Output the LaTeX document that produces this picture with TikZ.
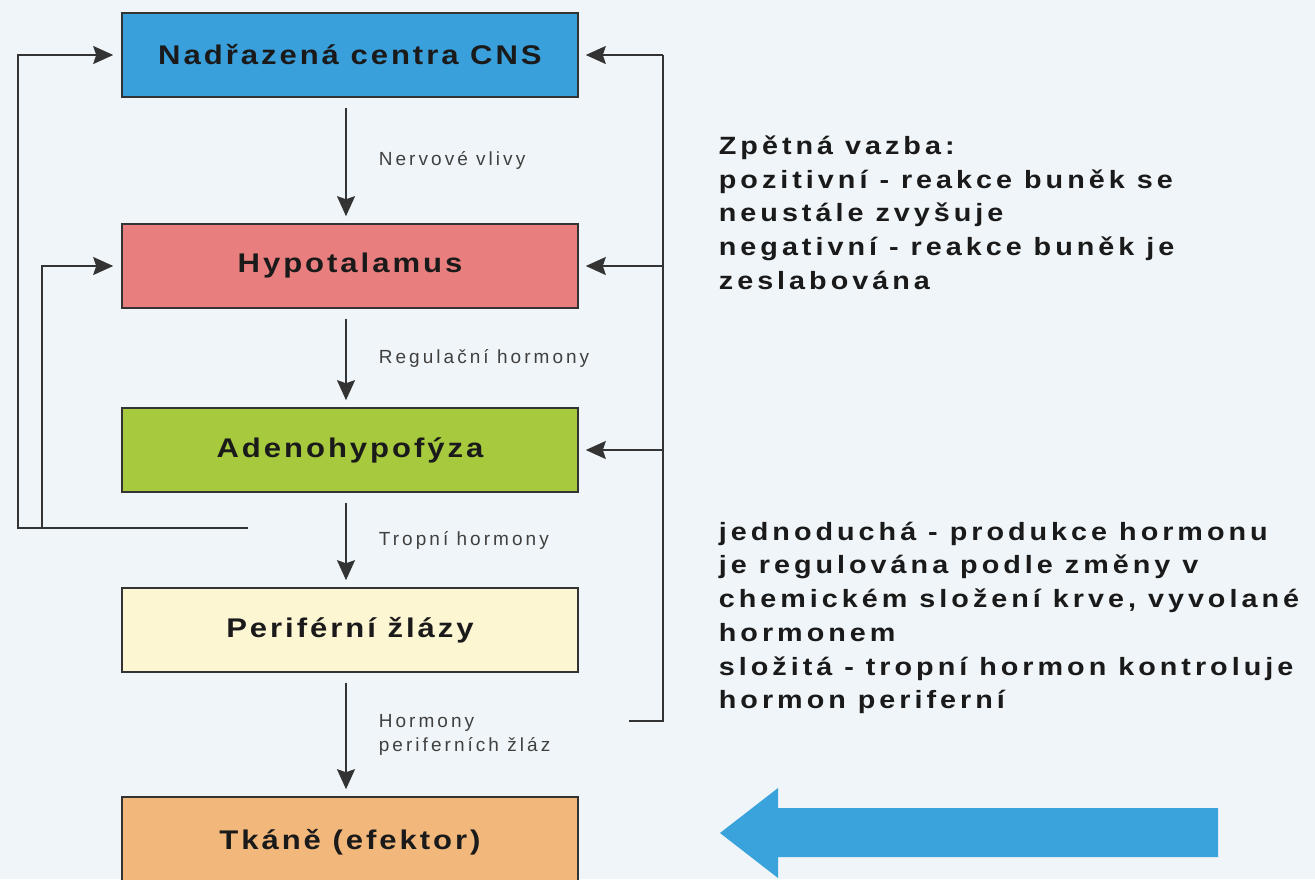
\documentclass[tikz,border=0pt]{standalone}
\usepackage{fontspec}
\setmainfont{Liberation Sans}
\newfontfamily\organfont[LetterSpace=11,FakeStretch=1.15]{Liberation Sans}
\newfontfamily\notefont[LetterSpace=16,FakeStretch=1.15]{Liberation Sans}
\newfontfamily\lblfont[LetterSpace=16]{Liberation Sans}
\usepackage{tikz}
\usetikzlibrary{arrows.meta,positioning}
\definecolor{bgcol}{HTML}{EFF5F8}
\definecolor{cnscol}{HTML}{3AA0DC}
\definecolor{hypcol}{HTML}{E87F7E}
\definecolor{adhcol}{HTML}{A6C93E}
\definecolor{pzlcol}{HTML}{FCF6D3}
\definecolor{tkncol}{HTML}{F1B77B}
\definecolor{arrcol}{HTML}{3BA3DC}
\definecolor{edgecol}{HTML}{333333}
\definecolor{txtcol}{HTML}{1A1A1A}
\tikzset{every picture/.style={line width=1.8pt}}
\tikzstyle{organ}=[draw=edgecol,line width=1.6pt,minimum width=456pt,minimum height=84pt,inner sep=0pt,font=\organfont\bfseries\fontsize{27}{32}\selectfont,text=txtcol]
\tikzstyle{lbl}=[font=\lblfont\fontsize{19}{24}\selectfont,text=black!75,inner sep=0pt,align=left]
\tikzstyle{notetext}=[font=\notefont\bfseries\fontsize{25}{33.7}\selectfont,text=txtcol,inner sep=0pt,align=left]
\tikzstyle{fb}=[draw=edgecol,line width=1.8pt]
\tikzstyle{dn}=[fb,->,shorten <=10pt,shorten >=7pt]

\begin{document}
\begin{tikzpicture}[x=1pt,y=-1pt,>={Stealth[length=20pt,width=18pt,inset=3pt]}]
\fill[bgcol] (0,0) rectangle (1315,879);
\useasboundingbox (0,0) rectangle (1315,879);
\node[organ,fill=cnscol] (cns) at (350,55) {Nadřazená centra CNS};
\node[organ,fill=hypcol] (hyp) at (350,266) {Hypotalamus};
\node[organ,fill=adhcol] (adh) at (350,450) {Adenohypofýza};
\node[organ,fill=pzlcol] (pzl) at (350,630) {Periférní žlázy};
\node[organ,fill=tkncol,minimum height=90pt] (tkn) at (350,842) {Tkáně (efektor)};
\path
([xshift=-4pt]cns.south) edge[dn] node[lbl,right=32pt]{Nervové vlivy} ([xshift=-4pt]hyp.north)
([xshift=-4pt]hyp.south) edge[dn] node[lbl,right=32pt]{Regulační hormony} ([xshift=-4pt]adh.north)
([xshift=-4pt]adh.south) edge[dn] node[lbl,right=32pt]{Tropní hormony} ([xshift=-4pt]pzl.north)
([xshift=-4pt]pzl.south) edge[dn] node[lbl,right=32pt]{Hormony\\periferních žláz} ([xshift=-4pt]tkn.north);
% zpetna vazba vlevo
\coordinate (lret) at (248,528);
\coordinate (ljoin) at (42,528);
\draw[fb,->,shorten >=8pt] (lret) -- (18,528) |- (cns.west);
\draw[fb,->,shorten >=8pt] (ljoin) |- (hyp.west);
% zpetna vazba vpravo
\coordinate (rret) at (629,721);
\coordinate (rtop) at (663,55);
\draw[fb] (rret) -| (rtop);
\draw[fb,->,shorten >=7pt] (rtop) -- (cns.east);
\draw[fb,->,shorten >=7pt] (hyp.east -| rtop) -- (hyp.east);
\draw[fb,->,shorten >=7pt] (adh.east -| rtop) -- (adh.east);
\node[notetext,anchor=north west] (zv) at (718,135) {Zpětná vazba:\\pozitivní - reakce buněk se\\neustále zvyšuje\\negativní - reakce buněk je\\zeslabována};
\node[notetext,anchor=north west] (typ) at (718,521) {jednoduchá - produkce hormonu\\je regulována podle změny v\\chemickém složení krve, vyvolané\\hormonem\\složitá - tropní hormon kontroluje\\hormon periferní};
\fill[arrcol] (1218,808) -- (778,808) -- (778,788) -- (720,833) -- (778,878) -- (778,857) -- (1218,857) -- cycle;
\end{tikzpicture}
\end{document}
